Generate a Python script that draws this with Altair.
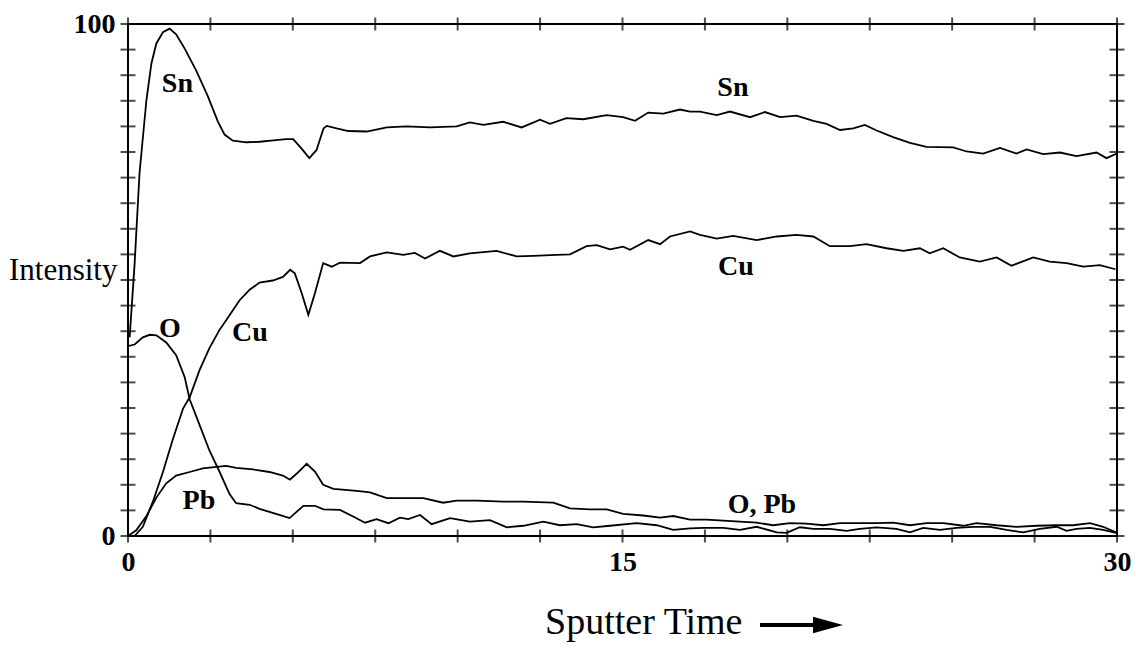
import altair as alt
import pandas as pd

# ---- data ----
sn_t = [0.05, 0.2, 0.35, 0.56, 0.71, 0.86, 1.06, 1.26, 1.46, 1.72, 2.07, 2.42, 2.73, 2.93, 3.18, 3.59, 3.99,
        4.49, 4.8, 5.01, 5.26, 5.5, 5.72, 5.93, 6.03, 6.33, 6.68, 7.24, 7.85, 8.45, 9.16, 9.97, 10.37, 10.78,
        11.38, 11.94, 12.5, 12.8, 13.3, 13.81, 14.52, 15.02, 15.38, 15.78, 16.24, 16.74, 17.05, 17.35, 17.86,
        18.26, 18.87, 19.32, 19.78, 20.28, 20.79, 21.19, 21.6, 22.0, 22.35, 22.71, 23.21, 23.72, 24.22, 25.03,
        25.44, 25.94, 26.45, 26.95, 27.26, 27.76, 28.27, 28.77, 29.38, 29.68, 30.0]
sn_v = [38.8, 53.1, 70.9, 85.2, 92.3, 96.2, 98.4, 99.1, 98.0, 95.2, 90.9, 85.9, 80.9, 78.4, 77.2, 76.9, 77.0,
        77.3, 77.5, 77.5, 75.7, 73.8, 75.4, 79.6, 80.1, 79.6, 79.1, 79.0, 79.8, 80.0, 79.8, 80.0, 80.8, 80.3,
        80.9, 79.8, 81.3, 80.5, 81.6, 81.4, 82.2, 81.8, 81.1, 82.7, 82.5, 83.3, 82.9, 82.9, 82.2,
        82.9, 81.8, 82.8, 81.8, 82.1, 81.1, 80.5, 79.3, 79.6, 80.3, 79.2, 77.9, 76.8, 76.0, 75.9,
        75.1, 74.7, 75.8, 74.7, 75.5, 74.6, 74.9, 74.2, 74.9, 73.8, 74.7]

cu_t = [0.2, 0.45, 0.76, 1.06, 1.36, 1.67, 1.87, 2.17, 2.47, 2.78, 3.08, 3.38, 3.69, 3.99, 4.39, 4.7, 4.92,
        5.06, 5.27, 5.47, 5.67, 5.92, 6.18, 6.43, 7.04, 7.34, 7.85, 8.35, 8.7, 9.01, 9.46, 9.87, 10.37, 11.18,
        11.79, 12.29, 13.0, 13.41, 13.91, 14.22, 14.62, 15.02, 15.23, 15.78, 16.14, 16.44, 17.05, 17.35, 17.86,
        18.36, 19.07, 19.68, 20.28, 20.79, 21.29, 21.9, 22.4, 23.01, 23.52, 24.02, 24.32, 24.73, 25.23, 25.84,
        26.35, 26.8, 27.46, 27.96, 28.47, 28.98, 29.48, 29.95]
cu_v = [0.0, 1.8, 6.8, 12.5, 18.9, 24.9, 27.1, 32.4, 36.7, 40.3, 43.1, 46.0, 48.1, 49.5, 49.9, 50.6, 52.0,
        51.3, 47.4, 43.2, 47.4, 53.3, 52.6, 53.4, 53.3, 54.6, 55.4, 54.9, 55.3, 54.2, 55.7, 54.6, 55.2, 55.7,
        54.6, 54.7, 54.9, 55.0, 56.6, 56.8, 56.0, 56.5, 55.9, 57.8, 57.0, 58.5, 59.5, 58.8, 58.1,
        58.6, 57.8, 58.5, 58.8, 58.5, 56.6, 56.6, 57.0, 56.2, 55.7, 56.2, 55.2, 56.2, 54.4, 53.6,
        54.4, 52.8, 54.4, 53.6, 53.3, 52.6, 52.9, 52.1]

o_t = [0.0, 0.2, 0.45, 0.66, 0.86, 1.16, 1.46, 1.72, 1.87, 2.17, 2.47, 2.78, 3.08, 3.28, 3.69, 3.99, 4.49,
       4.9, 5.32, 5.67, 5.93, 6.43, 6.83, 7.19, 7.54, 7.9, 8.25, 8.5, 8.86, 9.21, 9.77, 10.37, 10.98, 11.49,
       11.99, 12.6, 13.1, 13.61, 14.11, 14.62, 15.43, 16.04, 16.54, 17.05, 17.45, 18.06, 18.56, 19.07, 19.68,
       19.98, 20.38, 20.79, 21.29, 21.8, 22.2, 22.71, 23.31, 23.72, 24.12, 24.63, 25.13, 25.64, 26.15, 26.65,
       27.16, 27.66, 28.17, 28.47, 28.77, 29.18, 29.58, 29.97]
o_v = [37.1, 37.4, 38.8, 39.3, 39.2, 37.8, 35.3, 31.0, 26.7, 21.7, 16.7, 12.5, 8.2, 6.4, 6.1, 5.3, 4.3,
       3.5, 5.9, 5.9, 5.2, 5.1, 3.8, 2.6, 3.3, 2.5, 3.6, 3.3, 4.1, 2.3, 3.5, 2.8, 3.1, 1.7,
       2.0, 2.8, 2.1, 2.3, 1.7, 2.0, 2.5, 2.1, 1.2, 1.5, 1.6, 1.6, 1.2, 1.8, 0.7,
       0.6, 1.7, 1.4, 1.4, 1.0, 1.4, 1.7, 1.4, 0.7, 1.6, 1.2, 1.6, 1.8, 1.8, 1.2,
       0.7, 1.4, 1.8, 1.0, 1.4, 1.6, 1.2, 0.6]

pb_t = [0.0, 0.25, 0.56, 0.86, 1.16, 1.46, 1.87, 2.27, 2.68, 2.98, 3.28, 3.79, 4.29, 4.7, 4.91, 5.12, 5.42,
        5.67, 5.92, 6.23, 6.94, 7.34, 7.85, 8.45, 8.96, 9.56, 9.97, 10.58, 11.38, 11.99, 12.9, 13.41, 14.01,
        14.52, 15.02, 15.63, 16.14, 16.54, 17.05, 17.55, 18.06, 18.56, 19.07, 19.57, 20.08, 20.58, 21.09,
        21.6, 22.1, 22.71, 23.21, 23.72, 24.22, 24.73, 25.34, 25.74, 26.35, 26.95, 27.56, 28.17, 28.67,
        29.18, 29.58, 29.97]
pb_v = [0.0, 1.1, 3.9, 7.5, 10.3, 11.8, 12.5, 13.2, 13.5, 13.7, 13.3, 13.0, 12.5, 11.8, 11.0, 12.2, 14.1,
        12.6, 10.0, 9.2, 8.8, 8.5, 7.4, 7.4, 7.4, 6.5, 6.9, 6.9, 6.7, 6.7, 6.5, 5.4, 5.2,
        5.2, 4.3, 4.0, 3.6, 3.9, 3.2, 3.2, 3.0, 2.8, 2.6, 2.1, 2.5, 2.4, 2.1,
        2.5, 2.5, 2.5, 2.6, 2.1, 2.5, 2.5, 2.0, 2.5, 2.1, 1.8, 2.0, 2.1, 2.1,
        2.5, 1.8, 0.7]

label_text = ["Sn", "Sn", "Cu", "Cu", "O", "Pb", "O, Pb"]
label_t = [1.50, 18.35, 18.44, 3.70, 1.27, 2.15, 19.23]
label_v = [88.3, 87.5, 52.5, 39.6, 40.5, 6.8, 6.1]

x_tick_values = [0, 2.5, 5, 7.5, 10, 12.5, 15, 17.5, 20, 22.5, 25, 27.5, 30]
y_tick_values = [0, 5, 10, 15, 20, 25, 30, 35, 40, 45, 50, 55, 60, 65, 70, 75, 80, 85, 90, 95, 100]
x_label_values = [0, 15, 30]
y_label_values = [0, 100]

# ---- tables ----
rows = []
for name, ts, vs in [("Sn", sn_t, sn_v), ("Cu", cu_t, cu_v), ("O", o_t, o_v), ("Pb", pb_t, pb_v)]:
    for t, v in zip(ts, vs):
        rows.append({"series": name, "t": t, "v": v})
df = pd.DataFrame(rows)
labels = pd.DataFrame({"t": label_t, "v": label_v, "text": label_text})
xt_bottom = pd.DataFrame({"t": x_tick_values, "v": [0] * len(x_tick_values)})
xt_top = pd.DataFrame({"t": x_tick_values, "v": [100] * len(x_tick_values)})
yt_left = pd.DataFrame({"t": [0] * len(y_tick_values), "v": y_tick_values})
yt_right = pd.DataFrame({"t": [30] * len(y_tick_values), "v": y_tick_values})

FONT = "Liberation Serif"
xs = alt.Scale(domain=[0, 30], nice=False, zero=False)
ys = alt.Scale(domain=[0, 100], nice=False)

lines = alt.Chart(df).mark_line(color="black", strokeWidth=1.8).encode(
    x=alt.X("t:Q", scale=xs, axis=alt.Axis(
        values=x_label_values, ticks=False, domain=False, grid=False, labelFlush=False,
        labelOverlap=False, labelFont=FONT, labelFontSize=28, labelFontWeight="bold",
        labelColor="black", labelPadding=12,
        title="Sputter Time", titleFont=FONT, titleFontSize=38, titleFontWeight="normal",
        titleColor="black", titleAlign="right", titleAnchor="start", titleX=614, titleY=97,
        titleBaseline="alphabetic")),
    y=alt.Y("v:Q", scale=ys, axis=alt.Axis(
        values=y_label_values, ticks=False, domain=False, grid=False, labelFlush=False,
        labelOverlap=False, labelFont=FONT, labelFontSize=28, labelFontWeight="bold",
        labelColor="black", labelPadding=13,
        title="Intensity", titleFont=FONT, titleFontSize=31, titleFontWeight="normal",
        titleColor="black", titleAngle=0, titleAlign="right", titleBaseline="middle",
        titleX=-11, titleY=246)),
    detail="series:N",
)

tick_v = alt.Chart(pd.concat([xt_bottom, xt_top])).mark_tick(
    orient="vertical", color="black", size=13, thickness=2).encode(
    x=alt.X("t:Q", scale=xs), y=alt.Y("v:Q", scale=ys))
tick_h = alt.Chart(pd.concat([yt_left, yt_right])).mark_tick(
    orient="horizontal", color="black", size=15, thickness=2).encode(
    x=alt.X("t:Q", scale=xs), y=alt.Y("v:Q", scale=ys))

text = alt.Chart(labels).mark_text(font=FONT, fontSize=28, fontWeight="bold", color="black",
                                   baseline="middle", align="center").encode(
    x=alt.X("t:Q", scale=xs), y=alt.Y("v:Q", scale=ys), text="text:N")

arrow_shaft = alt.Chart(pd.DataFrame({"a": [0]})).mark_rule(color="black", strokeWidth=4).encode(
    x=alt.value(632), x2=alt.value(695), y=alt.value(601))
arrow_head = alt.Chart(pd.DataFrame({"a": [0]})).mark_point(
    shape="M-1,-0.55L1,0L-1,0.55Z", filled=True, color="black", opacity=1, size=900).encode(
    x=alt.value(700), y=alt.value(601))

chart = alt.layer(lines, tick_v, tick_h, text, arrow_shaft, arrow_head).properties(
    width=989, height=512,
    autosize=alt.AutoSizeParams(type="none"),
    padding={"left": 128, "top": 24, "right": 19, "bottom": 115},
    background="white",
).configure_view(stroke="black", strokeWidth=2)

chart.save("out.html", embed_options={"renderer": "svg", "actions": False})
